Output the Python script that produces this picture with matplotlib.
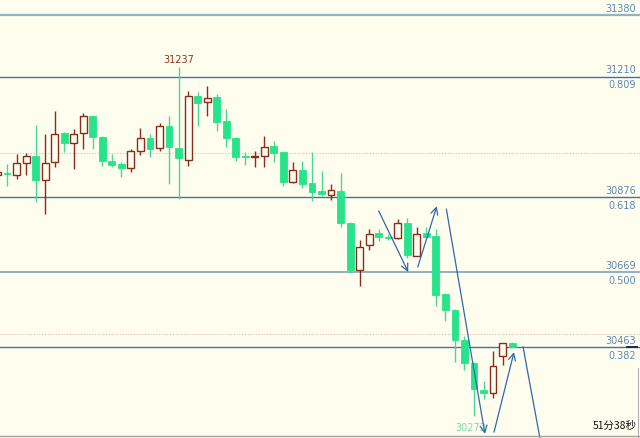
import matplotlib
matplotlib.use("Agg")
import matplotlib.pyplot as plt
from matplotlib.patches import Rectangle

# ---- data ----
opens = [30938, 30944, 30938, 30971, 30991, 30924, 30974, 31054, 31027, 31054,
         31101, 31043, 30977, 30968, 30957, 31004, 31040, 31012, 31073, 31013,
         30980, 31156, 31140, 31153, 31087, 31040, 30991, 30988, 30991, 31018,
         31002, 30919, 30952, 30916, 30894, 30883, 30894, 30805, 30676, 30745,
         30778, 30767, 30764, 30805, 30714, 30778, 30770, 30609, 30565, 30482,
         30419, 30344, 30336, 30438, 30474]
highs = [30952, 30968, 30996, 30999, 31076, 31051, 31115, 31057, 31065, 31109,
         31104, 31045, 30996, 30974, 31010, 31068, 31051, 31081, 31101, 31237,
         31170, 31167, 31184, 31162, 31120, 31043, 31002, 31004, 31046, 31032,
         31004, 30974, 30977, 31002, 30949, 30913, 30944, 30808, 30759, 30789,
         30789, 30775, 30817, 30819, 30794, 30794, 30789, 30612, 30568, 30493,
         30422, 30369, 30452, 30474, 30477]
lows = [30933, 30908, 30927, 30938, 30864, 30830, 30960, 31002, 30955, 31010,
        31010, 30963, 30960, 30933, 30946, 30993, 30988, 31004, 30913, 30871,
        30963, 31073, 31101, 31060, 31015, 30977, 30966, 30960, 30960, 30974,
        30908, 30916, 30902, 30866, 30880, 30869, 30794, 30667, 30631, 30731,
        30756, 30759, 30761, 30709, 30714, 30764, 30576, 30535, 30422, 30400,
        30272, 30319, 30322, 30413, 30463]
closes = [30946, 30941, 30971, 30991, 30924, 30971, 31051, 31027, 31051, 31101,
          31043, 30977, 30966, 30957, 31004, 31040, 31010, 31073, 31015, 30985,
          31156, 31137, 31151, 31085, 31040, 30988, 30988, 30991, 31015, 30999,
          30919, 30952, 30913, 30891, 30886, 30897, 30805, 30676, 30739, 30775,
          30767, 30764, 30805, 30717, 30775, 30767, 30607, 30565, 30482, 30419,
          30347, 30336, 30411, 30474, 30463]

level_prices = [31380, 31210, 30876, 30669, 30463]
level_ratios = ["", "0.809", "0.618", "0.500", "0.382"]
grid_prices = [31000, 30500]

high_label = "31237"
high_index = 19
low_label = "30272"
low_index = 50

# arrows: (x0, y0, x1, y1) in (candle index, price)
arrows = [(40.0, 30839, 43.1, 30670),
          (44.1, 30684, 46.1, 30852),
          (47.1, 30844, 51.15, 30223),
          (52.1, 30228, 54.2, 30449)]
plain_line = (55.15, 30463, 57.0, 30200)

timer_text = "51分38秒"

# ---- style ----
BG = "#fffeee"
GREEN = "#26e38c"
GREEN_WICK = "#45d998"
RED = "#8a2b1e"
LINE_BLUE = "#3b74ad"
LABEL_BLUE = "#5b88b3"
ARROW_BLUE = "#2d6aa8"

fig = plt.figure(figsize=(6.4, 4.39), dpi=100, facecolor=BG)
ax = fig.add_axes([0, 0, 1, 1])
ax.set_facecolor(BG)
ax.set_xlim(0.262, 67.42)
ax.set_ylim(30211.7, 31424.2)
ax.axis("off")

# grid dotted lines
for gp in grid_prices:
    ax.axhline(gp, color="#d3bcb2", lw=0.8, ls=(0, (1, 1.5)), zorder=1)

# level lines
for k, lp in enumerate(level_prices):
    if k == 0:
        col, lw = "#8fb5c4", 1.6
    elif k == 3:
        col, lw = "#7fa3ba", 1.2
    else:
        col, lw = LINE_BLUE, 1.0
    ax.axhline(lp, color=col, lw=lw, zorder=2)
    ax.annotate(str(lp), xy=(1.0, lp), xycoords=("axes fraction", "data"),
                xytext=(-3, 1.5), textcoords="offset points", ha="right", va="bottom",
                fontsize=7, color=LABEL_BLUE, zorder=5)
    if level_ratios[k]:
        ax.annotate(level_ratios[k], xy=(1.0, lp), xycoords=("axes fraction", "data"),
                    xytext=(-3, -2), textcoords="offset points", ha="right", va="top",
                    fontsize=7, color=LABEL_BLUE, zorder=5)

# candles
bw = 0.72
for i, (o, h, l, c) in enumerate(zip(opens, highs, lows, closes)):
    up = c > o
    if up:
        ax.vlines(i, l, h, color=RED, lw=1.0, zorder=3)
        bot, top = o, c
        ht = max(top - bot, 1.5)
        ax.add_patch(Rectangle((i - bw / 2, bot), bw, ht, facecolor=BG,
                               edgecolor=RED, lw=1.0, zorder=4))
    else:
        ax.vlines(i, l, h, color=GREEN_WICK, lw=1.0, zorder=3)
        bot, top = c, o
        ht = max(top - bot, 2.0)
        ax.add_patch(Rectangle((i - bw / 2, bot), bw, ht, facecolor=GREEN,
                               edgecolor=GREEN, lw=0.6, zorder=4))

# high / low labels
ax.annotate(high_label, xy=(high_index, highs[high_index]), xytext=(0, 2),
            textcoords="offset points", ha="center", va="bottom",
            fontsize=7, color="#8a3424", zorder=6)
ax.annotate(low_label, xy=(low_index, lows[low_index]), xytext=(-2, -4),
            textcoords="offset points", ha="center", va="top",
            fontsize=7, color="#7fd9ad", zorder=6)

# arrows
for (x0, y0, x1, y1) in arrows:
    ax.annotate("", xy=(x1, y1), xytext=(x0, y0),
                arrowprops=dict(arrowstyle="->,head_length=0.5,head_width=0.25",
                                color=ARROW_BLUE, lw=0.9, shrinkA=0, shrinkB=0),
                zorder=7)
x0, y0, x1, y1 = plain_line
ax.plot([x0, x1], [y0, y1], color=ARROW_BLUE, lw=0.9, zorder=7)

# frame bits
ax.plot([0, 1], [0.0035, 0.0035], transform=ax.transAxes, color="#a0a0a0", lw=1.0, zorder=8)
ax.plot([0.9965, 0.9965], [0.0, 0.16], transform=ax.transAxes, color="#b0b0b0", lw=0.8, zorder=8)
ax.plot([0.98, 0.996], [level_prices[-1], level_prices[-1]],
        transform=ax.get_yaxis_transform(), color="#1a2a5a", lw=1.4, zorder=8)

ax.text(0.995, 0.018, timer_text, transform=ax.transAxes, ha="right", va="bottom",
        fontsize=7.5, color="#111111", family=["Noto Sans CJK SC", "DejaVu Sans"], zorder=9)

fig.savefig("out.png", dpi=100, facecolor=BG)
